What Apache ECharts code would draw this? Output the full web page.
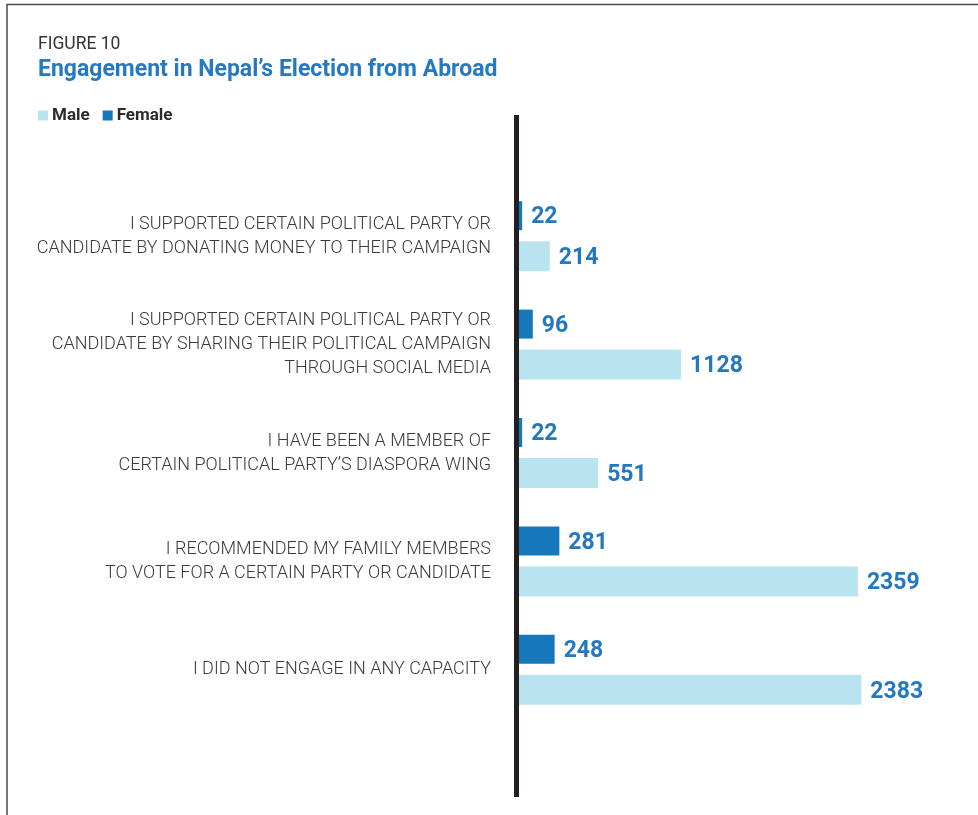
<!DOCTYPE html>
<html>
<head>
<meta charset="utf-8">
<script src="https://cdn.jsdelivr.net/npm/echarts@6/dist/echarts.min.js"></script>
<style>
  html, body { margin: 0; padding: 0; background: #fff; }
  #chart { width: 978px; height: 815px; }
</style>
</head>
<body>
<div id="chart"></div>
<script>
// Survey responses, top to bottom
const categories = [
  'I SUPPORTED CERTAIN POLITICAL PARTY OR\nCANDIDATE BY DONATING MONEY TO THEIR CAMPAIGN',
  'I SUPPORTED CERTAIN POLITICAL PARTY OR\nCANDIDATE BY SHARING THEIR POLITICAL CAMPAIGN\nTHROUGH SOCIAL MEDIA',
  'I HAVE BEEN A MEMBER OF\nCERTAIN POLITICAL PARTY\u2019S DIASPORA WING',
  'I RECOMMENDED MY FAMILY MEMBERS\nTO VOTE FOR A CERTAIN PARTY OR CANDIDATE',
  'I DID NOT ENGAGE IN ANY CAPACITY'
];
const maleValues = [214, 1128, 551, 2359, 2383];
const femaleValues = [22, 96, 22, 281, 248];

const MALE_COLOR = '#b8e4f0';
const FEMALE_COLOR = '#1478ba';
const LABEL_COLOR = '#2478c0';

const chart = echarts.init(document.getElementById('chart'), null, { renderer: 'canvas' });

const valueLabel = {
  show: true,
  position: 'right',
  distance: 9,
  offset: [0, 2],
  color: LABEL_COLOR,
  fontFamily: 'Roboto',
  fontWeight: 'bold',
  fontSize: 23
};

chart.setOption({
  animation: false,
  backgroundColor: '#ffffff',
  title: [
    {
      text: 'FIGURE 10',
      left: 33, top: 31,
      textStyle: { fontFamily: 'Roboto', fontWeight: 'normal', fontSize: 17.5, color: '#333333' }
    },
    {
      text: 'Engagement in Nepal\u2019s Election from Abroad',
      left: 33, top: 54,
      textStyle: { fontFamily: 'Roboto', fontWeight: 'bold', fontSize: 23, color: '#2479c0' }
    }
  ],
  legend: {
    left: 33, top: 102,
    icon: 'rect',
    itemWidth: 10, itemHeight: 10,
    itemGap: 13,
    data: ['Male', 'Female'],
    textStyle: { fontFamily: 'Roboto', fontWeight: 'bold', fontSize: 17, color: '#2b2b2b', padding: [0, 0, 0, -1] }
  },
  grid: { left: 519, right: 28, top: 182, height: 542, containLabel: false },
  xAxis: {
    type: 'value',
    min: 0, max: 3000,
    show: false
  },
  yAxis: {
    type: 'category',
    inverse: true,
    data: categories,
    axisLine: { show: false },
    axisTick: { show: false },
    axisLabel: {
      margin: 28,
      align: 'right',
      fontFamily: 'Roboto',
      fontWeight: 300,
      fontSize: 18,
      lineHeight: 24,
      color: '#3a3a3a'
    }
  },
  series: [
    {
      name: 'Female',
      type: 'bar',
      data: femaleValues,
      barWidth: 29,
      barGap: '38%',
      itemStyle: { color: FEMALE_COLOR },
      label: valueLabel
    },
    {
      name: 'Male',
      type: 'bar',
      data: maleValues,
      barWidth: 30,
      itemStyle: { color: MALE_COLOR },
      label: valueLabel
    }
  ],
  graphic: [
    // frame along the top and left edges
    { type: 'polyline', shape: { points: [[7, 815], [7, 4.5], [978, 4.5]] },
      style: { stroke: '#4a4a4a', lineWidth: 1.5, fill: null }, silent: true },
    // baseline of the bars
    { type: 'rect', shape: { x: 514, y: 115, width: 5, height: 682 },
      style: { fill: '#231f20' }, silent: true }
  ]
});
</script>
</body>
</html>
